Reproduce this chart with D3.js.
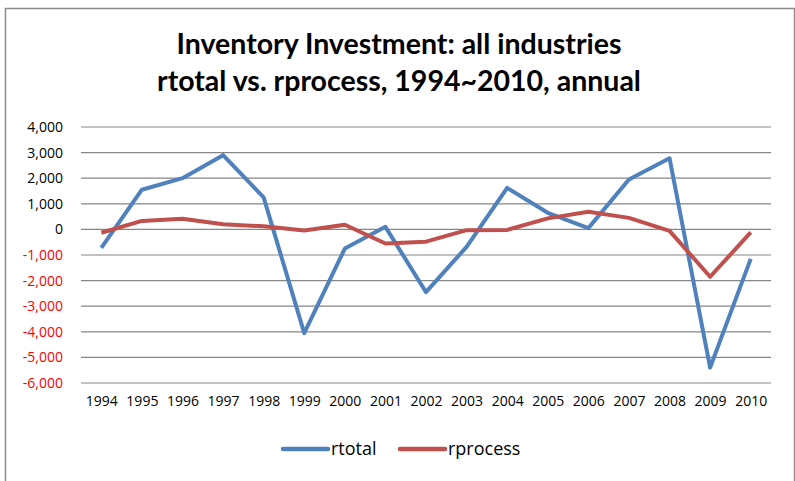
<!DOCTYPE html>
<html>
<head>
<meta charset="utf-8">
<script src="https://cdn.jsdelivr.net/npm/d3@7"></script>
<style>
  body { margin: 0; background: #fff; }
  svg { display: block; font-family: "Open Sans", Lato, sans-serif; }
</style>
</head>
<body>
<div class="chart"></div>
<script>
// data
var years = ["1994","1995","1996","1997","1998","1999","2000","2001","2002",
             "2003","2004","2005","2006","2007","2008","2009","2010"];
var rtotal = [-720, 1550, 2000, 2900, 1250, -4050, -750, 100, -2450,
              -680, 1620, 650, 50, 1950, 2780, -5400, -1150];
var rprocess = [-130, 330, 420, 200, 120, -40, 180, -550, -480,
                -30, -20, 430, 690, 450, -60, -1850, -120];
var yTicks = [4000, 3000, 2000, 1000, 0, -1000, -2000, -3000, -4000, -5000, -6000];
var titleLines = ["Inventory Investment: all industries",
                  "rtotal vs. rprocess, 1994~2010, annual"];

var svgWidth = 795;
var svgHeight = 481;
var margin = { top: 127, right: 24, bottom: 98, left: 81 };
var width = svgWidth - margin.left - margin.right;
var height = svgHeight - margin.top - margin.bottom;

var svg = d3.select('.chart')
  .append('svg')
    .attr('width', svgWidth)
    .attr('height', svgHeight);

// outer frame
svg.append('rect')
  .attr('x', 5.5).attr('y', 8.5)
  .attr('width', 789).attr('height', 480)
  .attr('fill', 'none')
  .attr('stroke', '#8c8c8c')
  .attr('stroke-width', 1.5);

// title
svg.append('text')
  .attr('text-anchor', 'middle')
  .attr('font-family', 'Lato, sans-serif')
  .attr('font-weight', 'bold')
  .attr('font-size', 28.5)
  .attr('fill', '#000')
  .selectAll('tspan')
  .data(titleLines)
  .enter().append('tspan')
    .attr('x', 399)
    .attr('y', function(d, i) { return 54 + i * 37; })
    .text(function(d) { return d; });

var chart = svg.append('g')
  .attr('transform', 'translate(' + margin.left + ',' + margin.top + ')');

var x = d3.scalePoint().domain(years).range([0, width]).padding(0.5);
var y = d3.scaleLinear().domain([-6000, 4000]).range([height, 0]);

// gridlines
chart.append('g')
  .selectAll('line')
  .data(yTicks)
  .enter().append('line')
    .attr('x1', 0).attr('x2', width)
    .attr('y1', function(d) { return y(d); })
    .attr('y2', function(d) { return y(d); })
    .attr('stroke', '#868686')
    .attr('stroke-width', 1.2);

// y axis labels
var fmt = d3.format(',');
var leftAxis = d3.axisLeft(y).tickValues(yTicks).tickSize(0).tickPadding(18)
  .tickFormat(function(d) { return d < 0 ? '-' + fmt(-d) : fmt(d); });
var yAxis = chart.append('g').call(leftAxis);
yAxis.select('.domain').remove();
yAxis.selectAll('text')
  .attr('font-size', 14)
  .attr('font-family', '"Open Sans", sans-serif')
  .attr('fill', function(d) { return d < 0 ? '#ff0000' : '#000'; });

// x axis labels
var bottomAxis = d3.axisBottom(x).tickSize(0).tickPadding(13);
var xAxis = chart.append('g')
  .attr('transform', 'translate(0,' + height + ')')
  .call(bottomAxis);
xAxis.select('.domain').remove();
xAxis.selectAll('text')
  .attr('font-size', 14)
  .attr('font-family', '"Open Sans", sans-serif')
  .attr('fill', '#000');

var series = [
  { name: 'rtotal', values: rtotal, color: '#4f81bd' },
  { name: 'rprocess', values: rprocess, color: '#c0504d' }
];

var line = d3.line()
  .x(function(d, i) { return x(years[i]); })
  .y(function(d) { return y(d); });

chart.selectAll('.series')
  .data(series)
  .enter().append('path')
    .attr('class', 'series')
    .attr('d', function(d) { return line(d.values); })
    .attr('fill', 'none')
    .attr('stroke', function(d) { return d.color; })
    .attr('stroke-width', 4)
    .attr('stroke-linejoin', 'round');

// legend
var legend = svg.append('g').attr('transform', 'translate(283,449)');
var legendX = [0, 117];
var item = legend.selectAll('g')
  .data(series)
  .enter().append('g')
    .attr('transform', function(d, i) { return 'translate(' + legendX[i] + ',0)'; });
item.append('line')
  .attr('x1', 0).attr('x2', 45)
  .attr('stroke', function(d) { return d.color; })
  .attr('stroke-width', 4.5)
  .attr('stroke-linecap', 'round');
item.append('text')
  .attr('x', 48)
  .attr('dy', '0.35em')
  .attr('font-size', 18)
  .attr('fill', '#000')
  .text(function(d) { return d.name; });
</script>
</body>
</html>
